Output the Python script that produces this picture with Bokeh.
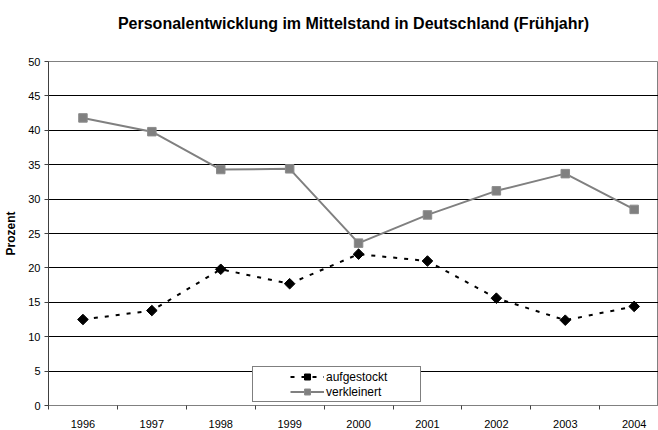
import numpy as np
from bokeh.plotting import figure
from bokeh.models import Range1d, FixedTicker, Legend, LegendItem, Title
from bokeh.embed import file_html
from bokeh.resources import INLINE

# ---- data ----
years = [1996, 1997, 1998, 1999, 2000, 2001, 2002, 2003, 2004]
aufgestockt = [12.5, 13.8, 19.8, 17.7, 22.0, 21.0, 15.6, 12.4, 14.4]
verkleinert = [41.8, 39.8, 34.3, 34.4, 23.6, 27.7, 31.2, 33.7, 28.5]
y_ticks = [0, 5, 10, 15, 20, 25, 30, 35, 40, 45, 50]
series_names = ["aufgestockt", "verkleinert"]
title_text = "Personalentwicklung im Mittelstand in Deutschland (Frühjahr)"
y_label = "Prozent"

FONT = "Liberation Sans"

p = figure(width=658, height=430, output_backend="svg", toolbar_location=None,
           title=None,
           x_range=Range1d(years[0] - 0.5, years[-1] + 0.353),
           y_range=Range1d(y_ticks[0], y_ticks[-1]),
           min_border_left=48, min_border_right=0, min_border_top=61, min_border_bottom=23)

p.background_fill_color = "white"
p.border_fill_color = "white"
p.outline_line_color = "#808080"

# spacer (closest to the plot area) then the real title above it
p.add_layout(Title(text=" ", text_font=FONT, text_font_size="16px", standoff=11), "above")
p.add_layout(Title(text=title_text, align="center", text_font=FONT,
                   text_font_size="16px", text_font_style="bold",
                   text_color="black", standoff=0), "above")

# grid
p.xgrid.visible = False
p.ygrid.ticker = FixedTicker(ticks=y_ticks[1:-1])
p.ygrid.grid_line_color = "black"
p.ygrid.grid_line_width = 1

# y axis
ya = p.yaxis[0]
ya.ticker = FixedTicker(ticks=y_ticks)
ya.major_tick_out = 4
ya.major_tick_in = 0
ya.minor_tick_out = 0
ya.minor_tick_in = 0
ya.axis_line_color = "#404040"
ya.major_tick_line_color = "#404040"
ya.major_label_standoff = 4
ya.major_label_text_font = FONT
ya.major_label_text_font_size = "11px"
ya.major_label_text_color = "black"
ya.axis_label = y_label
ya.axis_label_text_font = FONT
ya.axis_label_text_font_size = "12px"
ya.axis_label_text_font_style = "bold"
ya.axis_label_text_color = "black"
ya.axis_label_standoff = 7

# x axis
xa = p.xaxis[0]
bounds = [y - 0.5 for y in years] + [years[-1] + 0.5]
xa.ticker = FixedTicker(ticks=years, minor_ticks=bounds)
xa.major_tick_out = 0
xa.major_tick_in = 0
xa.minor_tick_out = 4
xa.minor_tick_in = 0
xa.minor_tick_line_color = "#404040"
xa.axis_line_color = "#808080"
xa.major_label_standoff = 10
xa.major_label_text_font = FONT
xa.major_label_text_font_size = "11px"
xa.major_label_text_color = "black"

# series
l1 = p.line(years, aufgestockt, line_color="black", line_width=2, line_dash="4 7")
m1 = p.scatter(years, aufgestockt, marker="square", angle=np.pi / 4, size=7.5,
               fill_color="black", line_color="black")
l2 = p.line(years, verkleinert, line_color="#808080", line_width=2)
m2 = p.scatter(years, verkleinert, marker="square", size=8.5,
               fill_color="#808080", line_color="#8c8c8c")

legend = Legend(items=[LegendItem(label=series_names[0], renderers=[l1, m1]),
                       LegendItem(label=series_names[1], renderers=[l2, m2])],
                location=(204, 3), padding=2, spacing=0,
                label_height=15, glyph_height=15, glyph_width=34,
                label_standoff=2, label_width=92,
                title=" ", title_location="left", title_standoff=23,
                title_text_font_size="11px",
                border_line_color="black", border_line_width=1,
                background_fill_color="white", background_fill_alpha=1,
                label_text_font=FONT, label_text_font_size="12px",
                label_text_color="black")
p.add_layout(legend)

open("out.html", "w").write(file_html(p, INLINE))
